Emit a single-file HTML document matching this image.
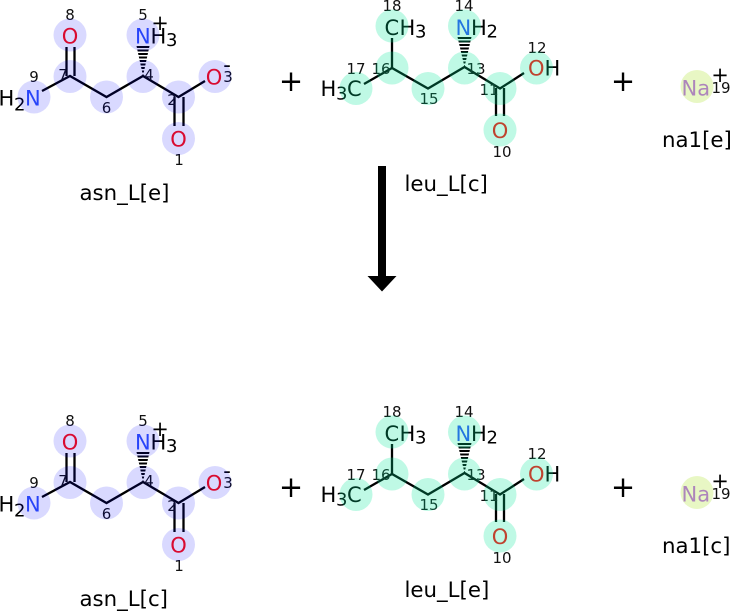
<!DOCTYPE html>
<html><head><meta charset="utf-8"><style>
html,body{margin:0;padding:0;background:#fff;width:730px;height:611px;overflow:hidden}
svg{display:block}
text{font-family:"DejaVu Sans",sans-serif;fill:#000}
.a{font-size:21px}.s{font-size:18px}.i{font-size:15px;text-anchor:middle;fill:#111}
.m{text-anchor:middle}.l{font-size:21.300px}.p{font-size:29px;text-anchor:middle}
.O{fill:#ff0d0d}.N{fill:#3050f8}.Na{fill:#ab5cf2}
.b line,.b path{stroke:#000;stroke-width:2.300;fill:none}
.w{stroke:#000;stroke-width:13;stroke-dasharray:2 1.500}
.c1 circle{fill:rgba(0,0,255,.15)}.c2 circle{fill:rgba(0,230,150,.25)}.c3 circle{fill:rgba(180,230,60,.3)}
</style></head><body>
<svg width="730" height="611" viewBox="0 0 730 611" xmlns="http://www.w3.org/2000/svg">
<defs>
<clipPath id="w1"><polygon points="143,76 136.500,46 149.500,46"/></clipPath>
<clipPath id="w2"><polygon points="464.500,67 457.500,37 471.500,37"/></clipPath>
</defs>

<!-- top asn -->
<g>
<g class="b"><path d="M42 91L70 76L106.500 97L143 76L178.500 97L205 81"/><line x1="66.500" y1="76" x2="66.500" y2="47"/><line x1="74.500" y1="76" x2="74.500" y2="47"/><line x1="174.500" y1="97" x2="174.500" y2="126"/><line x1="183.500" y1="97" x2="183.500" y2="126"/></g>
<line class="w" x1="143" y1="46" x2="143" y2="76" clip-path="url(#w1)"/>
<text class="a O m" x="70" y="43.500">O</text>
<text class="a N" x="135" y="43.500">N</text><text class="a" x="150.500" y="43.500">H</text><text class="s" x="166" y="46">3</text>
<text class="a m" x="160" y="30">+</text>
<text class="a" x="-1.500" y="105.500">H</text><text class="s" x="14" y="110.500">2</text><text class="a N" x="25" y="105.500">N</text>
<text class="a O m" x="214" y="84.500">O</text><text class="a m" x="227" y="72">-</text>
<text class="a O m" x="178.500" y="146.500">O</text>
<text class="i" x="70" y="20">8</text><text class="i" x="143" y="20">5</text><text class="i" x="63" y="80">7</text><text class="i" x="149" y="80">4</text><text class="i" x="34" y="82">9</text><text class="i" x="106.500" y="113">6</text><text class="i" x="172" y="105">2</text><text class="i" x="228" y="82">3</text><text class="i" x="179" y="165">1</text>
<g class="c1"><circle cx="70" cy="35" r="16.500"/><circle cx="143" cy="35" r="16.500"/><circle cx="70" cy="76.500" r="16.500"/><circle cx="143" cy="76.500" r="16.500"/><circle cx="34" cy="97" r="16.500"/><circle cx="106.500" cy="97" r="16.500"/><circle cx="178.500" cy="97" r="16.500"/><circle cx="215" cy="76.500" r="16.500"/><circle cx="178.500" cy="138.500" r="16.500"/></g>
<text class="l" x="79.500" y="200">asn_L[e]</text>
</g>

<!-- bottom asn -->
<g transform="translate(0,406)">
<g class="b"><path d="M42 91L70 76L106.500 97L143 76L178.500 97L205 81"/><line x1="66.500" y1="76" x2="66.500" y2="47"/><line x1="74.500" y1="76" x2="74.500" y2="47"/><line x1="174.500" y1="97" x2="174.500" y2="126"/><line x1="183.500" y1="97" x2="183.500" y2="126"/></g>
<line class="w" x1="143" y1="46" x2="143" y2="76" clip-path="url(#w1)"/>
<text class="a O m" x="70" y="43.500">O</text>
<text class="a N" x="135" y="43.500">N</text><text class="a" x="150.500" y="43.500">H</text><text class="s" x="166" y="46">3</text>
<text class="a m" x="160" y="30">+</text>
<text class="a" x="-1.500" y="105.500">H</text><text class="s" x="14" y="110.500">2</text><text class="a N" x="25" y="105.500">N</text>
<text class="a O m" x="214" y="84.500">O</text><text class="a m" x="227" y="72">-</text>
<text class="a O m" x="178.500" y="146.500">O</text>
<text class="i" x="70" y="20">8</text><text class="i" x="143" y="20">5</text><text class="i" x="63" y="80">7</text><text class="i" x="149" y="80">4</text><text class="i" x="34" y="82">9</text><text class="i" x="106.500" y="113">6</text><text class="i" x="172" y="105">2</text><text class="i" x="228" y="82">3</text><text class="i" x="179" y="165">1</text>
<g class="c1"><circle cx="70" cy="35" r="16.500"/><circle cx="143" cy="35" r="16.500"/><circle cx="70" cy="76.500" r="16.500"/><circle cx="143" cy="76.500" r="16.500"/><circle cx="34" cy="97" r="16.500"/><circle cx="106.500" cy="97" r="16.500"/><circle cx="178.500" cy="97" r="16.500"/><circle cx="215" cy="76.500" r="16.500"/><circle cx="178.500" cy="138.500" r="16.500"/></g>
<text class="l" x="79.500" y="200">asn_L[c]</text>
</g>

<!-- top leu -->
<g>
<g class="b"><line x1="392" y1="38" x2="392" y2="68"/><path d="M364 84L392 68L428 88.500L464.500 67L500 88.500L524 73"/><line x1="496" y1="88" x2="496" y2="116"/><line x1="504" y1="88" x2="504" y2="116"/></g>
<line class="w" style="stroke-width:14" x1="464.500" y1="37" x2="464.500" y2="67" clip-path="url(#w2)"/>
<text class="a" x="384.500" y="35">C</text><text class="a" x="399.500" y="35">H</text><text class="s" x="415" y="37.500">3</text>
<text class="a N" x="455.500" y="35">N</text><text class="a" x="471" y="35">H</text><text class="s" x="486.500" y="37.500">2</text>
<text class="a" x="320.500" y="96">H</text><text class="s" x="336" y="99.500">3</text><text class="a" x="347" y="96">C</text>
<text class="a O" x="528" y="75.500">O</text><text class="a" x="544.500" y="75.500">H</text>
<text class="a O m" x="500" y="138">O</text>
<text class="i" x="392" y="11">18</text><text class="i" x="464" y="11">14</text><text class="i" x="356" y="74">17</text><text class="i" x="381" y="74">16</text><text class="i" x="476" y="74">13</text><text class="i" x="429" y="104">15</text><text class="i" x="489" y="95">11</text><text class="i" x="537" y="53">12</text><text class="i" x="502" y="157">10</text>
<g class="c2"><circle cx="392" cy="26" r="16.500"/><circle cx="464.500" cy="26" r="16.500"/><circle cx="392" cy="68" r="16.500"/><circle cx="464.500" cy="68" r="16.500"/><circle cx="356" cy="88.500" r="16.500"/><circle cx="428" cy="88.500" r="16.500"/><circle cx="500" cy="88.500" r="16.500"/><circle cx="536.500" cy="68" r="16.500"/><circle cx="500" cy="130" r="16.500"/></g>
<text class="l" x="404.500" y="191">leu_L[c]</text>
</g>

<!-- bottom leu -->
<g transform="translate(0,406)">
<g class="b"><line x1="392" y1="38" x2="392" y2="68"/><path d="M364 84L392 68L428 88.500L464.500 67L500 88.500L524 73"/><line x1="496" y1="88" x2="496" y2="116"/><line x1="504" y1="88" x2="504" y2="116"/></g>
<line class="w" style="stroke-width:14" x1="464.500" y1="37" x2="464.500" y2="67" clip-path="url(#w2)"/>
<text class="a" x="384.500" y="35">C</text><text class="a" x="399.500" y="35">H</text><text class="s" x="415" y="37.500">3</text>
<text class="a N" x="455.500" y="35">N</text><text class="a" x="471" y="35">H</text><text class="s" x="486.500" y="37.500">2</text>
<text class="a" x="320.500" y="96">H</text><text class="s" x="336" y="99.500">3</text><text class="a" x="347" y="96">C</text>
<text class="a O" x="528" y="75.500">O</text><text class="a" x="544.500" y="75.500">H</text>
<text class="a O m" x="500" y="138">O</text>
<text class="i" x="392" y="11">18</text><text class="i" x="464" y="11">14</text><text class="i" x="356" y="74">17</text><text class="i" x="381" y="74">16</text><text class="i" x="476" y="74">13</text><text class="i" x="429" y="104">15</text><text class="i" x="489" y="95">11</text><text class="i" x="537" y="53">12</text><text class="i" x="502" y="157">10</text>
<g class="c2"><circle cx="392" cy="26" r="16.500"/><circle cx="464.500" cy="26" r="16.500"/><circle cx="392" cy="68" r="16.500"/><circle cx="464.500" cy="68" r="16.500"/><circle cx="356" cy="88.500" r="16.500"/><circle cx="428" cy="88.500" r="16.500"/><circle cx="500" cy="88.500" r="16.500"/><circle cx="536.500" cy="68" r="16.500"/><circle cx="500" cy="130" r="16.500"/></g>
<text class="l" x="404.500" y="191">leu_L[e]</text>
</g>

<!-- sodium top -->
<g>
<text class="a Na" x="681.500" y="95.500">Na</text><text class="a m" x="720" y="82">+</text><text class="i" x="721" y="93">19</text>
<g class="c3"><circle cx="697" cy="86.500" r="16.500"/></g>
<text class="l" x="662" y="147">na1[e]</text>
</g>
<!-- sodium bottom -->
<g transform="translate(0,406)">
<text class="a Na" x="681.500" y="95.500">Na</text><text class="a m" x="720" y="82">+</text><text class="i" x="721" y="93">19</text>
<g class="c3"><circle cx="697" cy="86.500" r="16.500"/></g>
<text class="l" x="662" y="147">na1[c]</text>
</g>

<!-- plus signs -->
<text class="p" x="291" y="91">+</text><text class="p" x="623" y="91">+</text>
<text class="p" x="291" y="497">+</text><text class="p" x="623" y="497">+</text>

<!-- reaction arrow -->
<rect x="378" y="166" width="8" height="110" fill="#000"/>
<polygon points="367.500,276 396.500,276 382,291.500" fill="#000"/>
</svg>
</body></html>
